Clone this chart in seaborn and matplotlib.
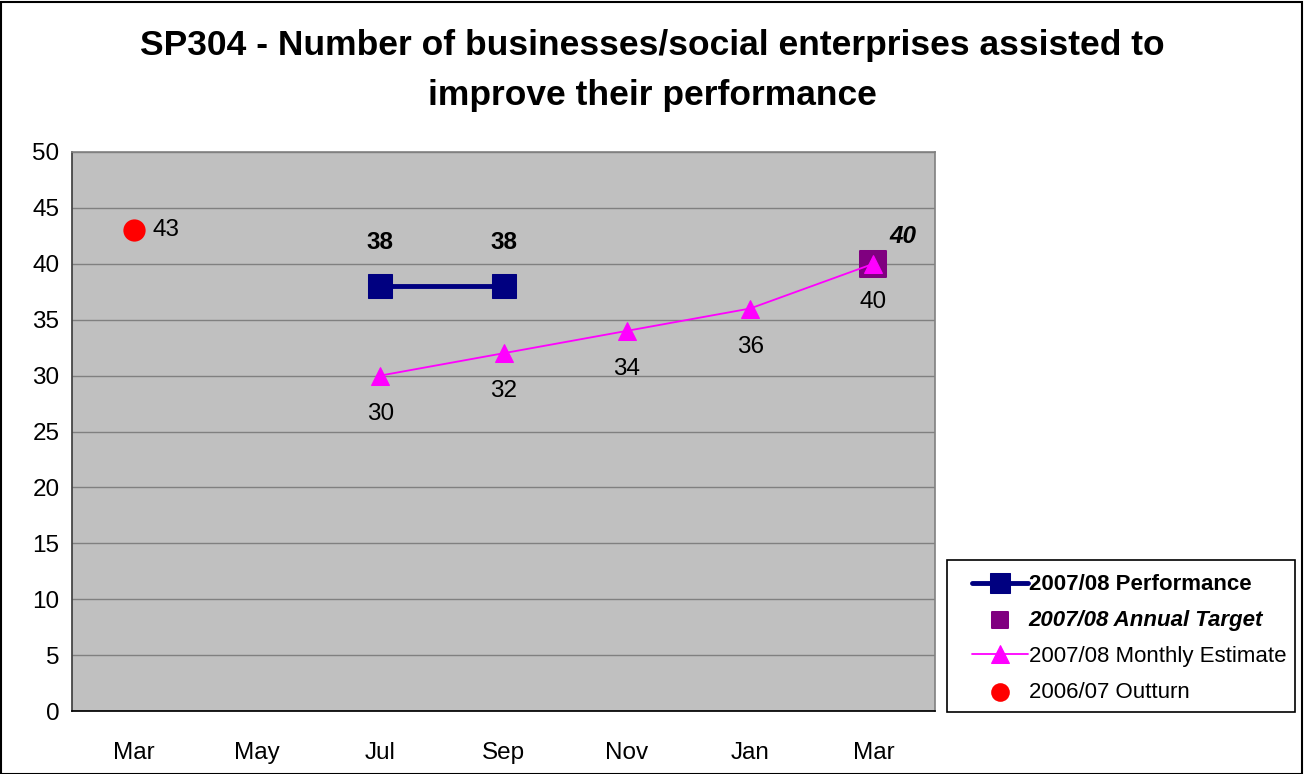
import numpy as np
import pandas as pd
import matplotlib
matplotlib.use('Agg')
import matplotlib.pyplot as plt
from matplotlib.patches import Rectangle
from matplotlib.ticker import FixedLocator, MultipleLocator
import seaborn as sns

MONTHS = ['Mar', 'May', 'Jul', 'Sep', 'Nov', 'Jan', 'Mar']

PERF_POS = [2, 3]
PERF_VALS = [38, 38]
TARGET_POS = [6]
TARGET_VALS = [40]
EST_POS = [2, 3, 4, 5, 6]
EST_VALS = [30, 32, 34, 36, 40]
OUTTURN_POS = [0]
OUTTURN_VALS = [43]

sns.set_theme(style='white')
plt.rcParams['font.family'] = ['Liberation Sans', 'DejaVu Sans']
plt.rcParams['text.color'] = 'black'
plt.rcParams['xtick.color'] = 'black'
plt.rcParams['ytick.color'] = 'black'

fig = plt.figure(figsize=(13.04, 7.74), dpi=100)
ax = fig.add_axes([72 / 1304, 1 - 711 / 774, (935 - 72) / 1304, (711 - 152) / 774])
ax.set_facecolor('#C0C0C0')

perf = pd.DataFrame({'x': PERF_POS, 'y': PERF_VALS})
est = pd.DataFrame({'x': EST_POS, 'y': EST_VALS})
tgt = pd.DataFrame({'x': TARGET_POS, 'y': TARGET_VALS})
out = pd.DataFrame({'x': OUTTURN_POS, 'y': OUTTURN_VALS})

sns.lineplot(data=perf, x='x', y='y', ax=ax, color='#000080', lw=3.5,
             marker='s', markersize=17, markeredgecolor='#000080',
             label='2007/08 Performance', zorder=4)
sns.scatterplot(data=tgt, x='x', y='y', ax=ax, color='#800080', marker='s',
                s=330, edgecolor='#800080', label='2007/08 Annual Target', zorder=3)
sns.lineplot(data=est, x='x', y='y', ax=ax, color='#FF00FF', lw=1.3,
             marker='^', markersize=13, markeredgecolor='#FF00FF',
             label='2007/08 Monthly Estimate', zorder=5)
sns.scatterplot(data=out, x='x', y='y', ax=ax, color='#FF0000', marker='o',
                s=220, edgecolor='#FF0000', label='2006/07 Outturn', zorder=5)

# data labels
LBL = 17.5
for x, y in zip(PERF_POS, PERF_VALS):
    ax.text(x, y + 3.9, str(y), ha='center', va='center', fontsize=LBL,
            fontweight='bold')
for x, y in zip(TARGET_POS, TARGET_VALS):
    ax.text(x + 0.24, y + 2.4, str(y), ha='center', va='center', fontsize=LBL,
            fontweight='bold', fontstyle='italic')
for x, y in zip(EST_POS, EST_VALS):
    ax.text(x, y - 3.4, str(y), ha='center', va='center', fontsize=LBL)
for x, y in zip(OUTTURN_POS, OUTTURN_VALS):
    ax.text(x + 0.155, y, str(y), ha='left', va='center', fontsize=LBL)

ax.set_xlim(-0.5, 6.5)
ax.set_ylim(0, 50)
ax.yaxis.set_major_locator(MultipleLocator(5))
ax.set_xticks(range(len(MONTHS)))
ax.set_xticklabels(MONTHS)
ax.xaxis.set_minor_locator(FixedLocator(np.arange(-0.5, 7, 1)))
ax.tick_params(axis='x', which='major', length=0, pad=22, labelsize=17.5)
ax.tick_params(axis='x', which='minor', length=5, width=1, color='black', direction='out')
ax.tick_params(axis='y', length=5, width=1, color='black', direction='out', labelsize=17.5, pad=4)
ax.set_xlabel('')
ax.set_ylabel('')
ax.yaxis.grid(True, color='#808080', lw=1)
ax.set_axisbelow(True)
for side in ['top', 'right']:
    ax.spines[side].set_color('#808080')
    ax.spines[side].set_linewidth(1.2)
ax.spines['left'].set_color('#404040')
ax.spines['bottom'].set_color('black')

# legend: frameless, with its own box drawn behind it
ax.legend_.remove()
handles, labels = ax.get_legend_handles_labels()
leg = fig.legend(handles, labels, loc='center left',
                 bbox_to_anchor=(972 / 1304, 1 - 638.5 / 774),
                 frameon=False, fontsize=16, handlelength=2.5, labelspacing=0.66,
                 borderpad=0, handletextpad=0.05, borderaxespad=0)
texts = leg.get_texts()
texts[0].set_fontweight('bold')
texts[1].set_fontweight('bold')
texts[1].set_fontstyle('italic')
lh = leg.legend_handles
lh[0].set_markersize(15)
lh[1].set_sizes([140])
lh[2].set_markersize(13)
lh[3].set_sizes([150])

fig.patches.append(Rectangle((947 / 1304, 1 - 712 / 774), 348 / 1304, 152 / 774,
                             transform=fig.transFigure, facecolor='white',
                             edgecolor='black', lw=1.2, zorder=0))

fig.suptitle('SP304 - Number of businesses/social enterprises assisted to\nimprove their performance',
             x=0.5, y=0.963, fontsize=25.5, fontweight='bold', linespacing=1.67)

fig.patches.append(Rectangle((0.0008, 0.0), 0.998, 0.998, transform=fig.transFigure,
                             fill=False, edgecolor='black', lw=1.5))

fig.savefig('out.png', dpi=100)
